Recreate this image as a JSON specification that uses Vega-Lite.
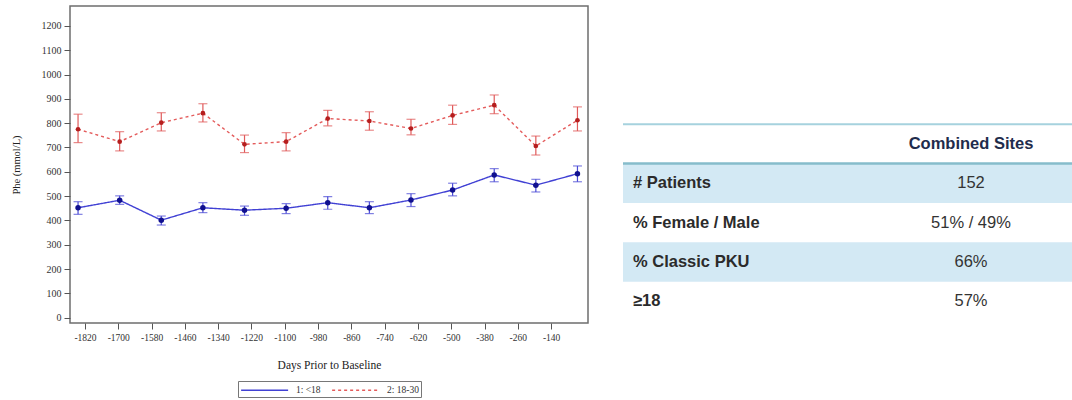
{
  "$schema": "https://vega.github.io/schema/vega-lite/v6.json",
  "background": "white",
  "padding": {"left": 10, "top": 5, "right": 0, "bottom": 0},
  "spacing": 32,
  "datasets": {
    "series": [
      {"group": "1: <18", "day": -1845, "mean": 452, "lo": 425, "hi": 477},
      {"group": "1: <18", "day": -1695, "mean": 483, "lo": 466, "hi": 501},
      {"group": "1: <18", "day": -1545, "mean": 401, "lo": 381, "hi": 418},
      {"group": "1: <18", "day": -1395, "mean": 452, "lo": 432, "hi": 473},
      {"group": "1: <18", "day": -1245, "mean": 442, "lo": 421, "hi": 459},
      {"group": "1: <18", "day": -1095, "mean": 450, "lo": 428, "hi": 469},
      {"group": "1: <18", "day": -945, "mean": 473, "lo": 446, "hi": 498},
      {"group": "1: <18", "day": -795, "mean": 452, "lo": 428, "hi": 477},
      {"group": "1: <18", "day": -645, "mean": 484, "lo": 457, "hi": 510},
      {"group": "1: <18", "day": -495, "mean": 525, "lo": 501, "hi": 553},
      {"group": "1: <18", "day": -345, "mean": 587, "lo": 559, "hi": 613},
      {"group": "1: <18", "day": -195, "mean": 545, "lo": 517, "hi": 569},
      {"group": "1: <18", "day": -45, "mean": 592, "lo": 559, "hi": 624},
      {"group": "2: 18-30", "day": -1845, "mean": 775, "lo": 720, "hi": 837},
      {"group": "2: 18-30", "day": -1695, "mean": 724, "lo": 686, "hi": 765},
      {"group": "2: 18-30", "day": -1545, "mean": 802, "lo": 768, "hi": 843},
      {"group": "2: 18-30", "day": -1395, "mean": 841, "lo": 805, "hi": 880},
      {"group": "2: 18-30", "day": -1245, "mean": 713, "lo": 679, "hi": 751},
      {"group": "2: 18-30", "day": -1095, "mean": 724, "lo": 686, "hi": 761},
      {"group": "2: 18-30", "day": -945, "mean": 819, "lo": 789, "hi": 853},
      {"group": "2: 18-30", "day": -795, "mean": 809, "lo": 771, "hi": 847},
      {"group": "2: 18-30", "day": -645, "mean": 778, "lo": 752, "hi": 816},
      {"group": "2: 18-30", "day": -495, "mean": 832, "lo": 795, "hi": 874},
      {"group": "2: 18-30", "day": -345, "mean": 874, "lo": 839, "hi": 916},
      {"group": "2: 18-30", "day": -195, "mean": 706, "lo": 669, "hi": 747},
      {"group": "2: 18-30", "day": -45, "mean": 812, "lo": 768, "hi": 867}
    ],
    "table": [
      {"row": "header", "label": "", "value": "Combined Sites"},
      {"row": "# Patients", "label": "# Patients", "value": "152"},
      {"row": "% Female / Male", "label": "% Female / Male", "value": "51% / 49%"},
      {"row": "% Classic PKU", "label": "% Classic PKU", "value": "66%"},
      {"row": "≥18", "label": "≥18", "value": "57%"}
    ]
  },
  "hconcat": [
    {
      "width": 518,
      "height": 317,
      "view": {"stroke": "#6e6e6e", "strokeWidth": 1.5},
      "data": {"name": "series"},
      "encoding": {
        "x": {
          "field": "day",
          "type": "quantitative",
          "scale": {"domain": [-1874, -7], "nice": false, "zero": false},
          "axis": {
            "title": "Days Prior to Baseline",
            "values": [-1820, -1700, -1580, -1460, -1340, -1220, -1100, -980, -860, -740, -620, -500, -380, -260, -140],
            "labelExpr": "datum.value + ''",
            "labelOverlap": false,
            "grid": false,
            "domain": false,
            "tickSize": 6,
            "tickColor": "#555",
            "labelFont": "Liberation Serif",
            "labelFontSize": 9.5,
            "labelColor": "#333",
            "labelPadding": 3,
            "titleFont": "Liberation Serif",
            "titleFontSize": 11.5,
            "titleFontWeight": "normal",
            "titleColor": "#222",
            "titlePadding": 18
          }
        },
        "y": {
          "field": "mean",
          "type": "quantitative",
          "title": "Phe (mmol/L)",
          "scale": {"domain": [-22, 1282], "nice": false, "zero": false},
          "axis": {
            "values": [0, 100, 200, 300, 400, 500, 600, 700, 800, 900, 1000, 1100, 1200],
            "labelExpr": "datum.value + ''",
            "labelOverlap": false,
            "grid": false,
            "domain": false,
            "tickSize": 6,
            "tickColor": "#555",
            "labelFont": "Liberation Serif",
            "labelFontSize": 10,
            "labelColor": "#333",
            "labelPadding": 3,
            "titleFont": "Liberation Serif",
            "titleFontSize": 10.5,
            "titleFontWeight": "normal",
            "titleColor": "#222",
            "titlePadding": 20
          }
        }
      },
      "layer": [
        {
          "transform": [{"filter": "datum.group === '1: <18'"}],
          "mark": {"type": "errorbar", "color": "#4a4ad6", "thickness": 1.2, "ticks": {"size": 9, "thickness": 1.2}},
          "encoding": {
            "y": {"field": "lo", "type": "quantitative", "title": "Phe (mmol/L)"},
            "y2": {"field": "hi"}
          }
        },
        {
          "transform": [{"filter": "datum.group === '2: 18-30'"}],
          "mark": {"type": "errorbar", "color": "#e05a5a", "thickness": 1.2, "ticks": {"size": 9, "thickness": 1.2}},
          "encoding": {
            "y": {"field": "lo", "type": "quantitative", "title": "Phe (mmol/L)"},
            "y2": {"field": "hi"}
          }
        },
        {
          "mark": {"type": "line", "strokeWidth": 1.4},
          "encoding": {
            "color": {
              "field": "group",
              "type": "nominal",
              "scale": {"domain": ["1: <18", "2: 18-30"], "range": ["#4141d4", "#e45c5c"]},
              "legend": {
                "title": null,
                "orient": "bottom",
                "direction": "horizontal",
                "symbolType": "M-1,0H7",
                "symbolSize": 138,
                "symbolStrokeWidth": 1.3,
                "labelOffset": 42,
                "labelFont": "Liberation Serif",
                "labelFontSize": 9.5,
                "labelColor": "#333",
                "strokeColor": "#777",
                "padding": 2,
                "offset": 10,
                "columnPadding": 8
              }
            },
            "strokeDash": {
              "field": "group",
              "type": "nominal",
              "scale": {"domain": ["1: <18", "2: 18-30"], "range": [[1, 0], [3, 3]]},
              "legend": {
                "title": null,
                "orient": "bottom",
                "direction": "horizontal",
                "symbolType": "M-1,0H7",
                "symbolSize": 138,
                "symbolStrokeWidth": 1.3,
                "labelOffset": 42,
                "labelFont": "Liberation Serif",
                "labelFontSize": 9.5,
                "labelColor": "#333",
                "strokeColor": "#777",
                "padding": 2,
                "offset": 10,
                "columnPadding": 8
              }
            }
          }
        },
        {
          "transform": [{"filter": "datum.group === '1: <18'"}],
          "mark": {"type": "point", "filled": true, "shape": "circle", "size": 30, "color": "#10108f", "opacity": 1}
        },
        {
          "transform": [{"filter": "datum.group === '2: 18-30'"}],
          "mark": {"type": "point", "filled": true, "shape": "circle", "size": 22, "color": "#b51e1e", "opacity": 1}
        }
      ]
    },
    {
      "width": 450,
      "height": 315,
      "view": {"stroke": null},
      "data": {"name": "table"},
      "encoding": {
        "y": {
          "field": "row",
          "type": "nominal",
          "scale": {"type": "band", "domain": ["r0", "r1", "r2", "header", "# Patients", "% Female / Male", "% Classic PKU", "≥18"], "paddingInner": 0, "paddingOuter": 0},
          "axis": null
        }
      },
      "layer": [
        {
          "transform": [{"filter": {"field": "row", "oneOf": ["# Patients", "% Classic PKU"]}}],
          "mark": {"type": "rect", "color": "#d3e9f4"}
        },
        {
          "transform": [{"filter": "datum.row === 'header'"}],
          "mark": {"type": "rule", "color": "#a6d2de", "strokeWidth": 2},
          "encoding": {"y": {"field": "row", "type": "nominal", "bandPosition": 0}}
        },
        {
          "transform": [{"filter": "datum.row === '# Patients'"}],
          "mark": {"type": "rule", "color": "#86bccb", "strokeWidth": 2.5},
          "encoding": {"y": {"field": "row", "type": "nominal", "bandPosition": 0}}
        },
        {
          "transform": [{"filter": "datum.row !== 'header'"}],
          "mark": {"type": "text", "align": "left", "baseline": "middle", "font": "Liberation Sans", "fontSize": 16.5, "fontWeight": "bold", "color": "#2b2b2b"},
          "encoding": {
            "x": {"datum": "label", "type": "nominal", "scale": {"type": "point", "domain": ["label", "value"], "range": [10, 348], "padding": 0}, "axis": null},
            "text": {"field": "label"}
          }
        },
        {
          "transform": [{"filter": "datum.row !== 'header'"}],
          "mark": {"type": "text", "align": "center", "baseline": "middle", "font": "Liberation Sans", "fontSize": 16.5, "color": "#333"},
          "encoding": {
            "x": {"datum": "value", "type": "nominal"},
            "text": {"field": "value"}
          }
        },
        {
          "transform": [{"filter": "datum.row === 'header'"}],
          "mark": {"type": "text", "align": "center", "baseline": "middle", "font": "Liberation Sans", "fontSize": 16.5, "fontWeight": "bold", "color": "#1f2c4c"},
          "encoding": {
            "x": {"datum": "value", "type": "nominal"},
            "text": {"field": "value"}
          }
        }
      ]
    }
  ],
  "resolve": {"legend": {"color": "independent", "strokeDash": "independent"}},
  "config": {
    "font": "Liberation Sans",
    "view": {"stroke": null},
    "legend": {"layout": {"bottom": {"anchor": "middle"}}}
  }
}
